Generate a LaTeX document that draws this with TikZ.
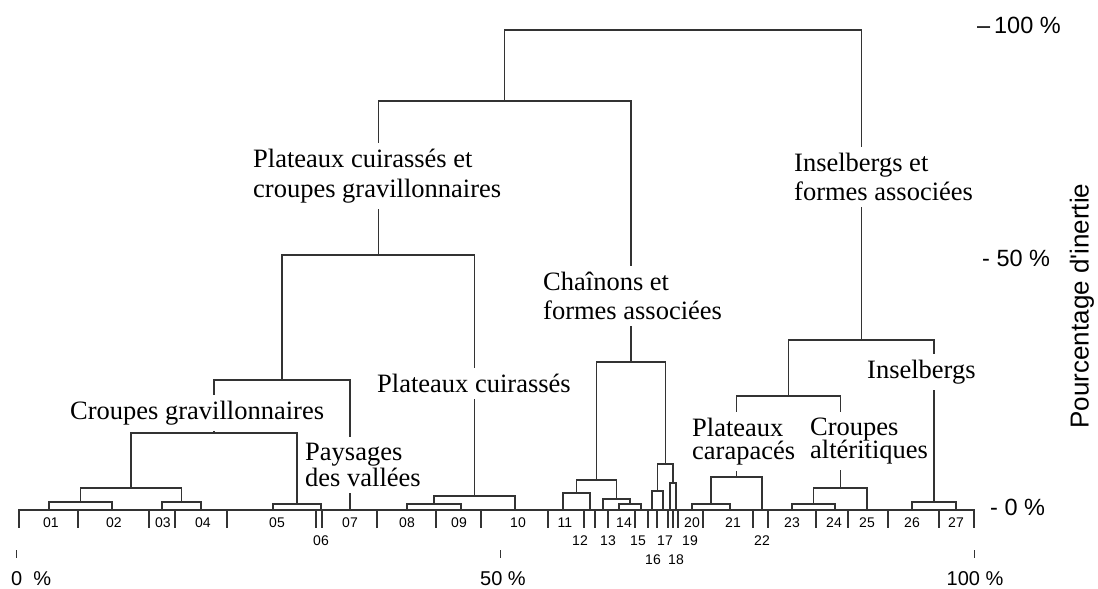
\documentclass[tikz,border=0pt]{standalone}
\usepackage{fontspec}
\setmainfont{Liberation Serif}
\setsansfont{Liberation Sans}
\usetikzlibrary{calc}

\tikzset{
  tree/.style={draw=black!80, line width=1.3pt, line cap=rect},
  grouplabel/.style={font=\fontsize{26.5}{#1}\selectfont,
    align=left, anchor=north west, fill=white, inner xsep=2pt, inner ysep=6pt},
  grouplabel/.default=30,
  leafnum/.style={font=\sffamily\fontsize{14}{15}\selectfont, anchor=base, inner sep=0pt},
  axislabel/.style={font=\sffamily\fontsize{20}{22}\selectfont, inner sep=0pt},
  scalelabel/.style={font=\sffamily\fontsize{23.5}{25}\selectfont, anchor=base west, inner sep=0pt}
}

% one merge: left child, right child, level, name of the merged branch
\newcommand{\fuse}[4]{%
  \draw[tree] (#1) -- (#1 |- 0,#3) -- (#2 |- 0,#3) -- (#2);
  \coordinate (#4) at ($(#1 |- 0,#3)!0.5!(#2 |- 0,#3)$);
}

\begin{document}
\lineskiplimit=-100pt
\begin{tikzpicture}[x=1pt, y=-1pt]

\useasboundingbox (0,0) rectangle (1098,589);

%-----------------------
% 1) BASE LINE AND LEAVES
%-----------------------
\draw[tree] (19,510) -- (974,510);
\foreach \x in {19,78,149,175,227,316,322,377,436,481,548,584,595,608,635,
                648,657,668,673,678,703,753,768,816,848,888,939,974}
  \draw[tree] (\x,510) -- (\x,527);

\foreach \n/\x in {01/49,02/112,03/162,04/201,05/273,06/321,07/350,08/407,
                   09/461,10/515,11/563,12/590,13/603,14/619,15/641,16/652,
                   17/663,18/670,19/676,20/692,21/730,22/762,23/792,24/835,
                   25/867,26/912,27/956}
  \coordinate (l\n) at (\x,510);

% leaf numbers, on three rows where they crowd
\foreach \n/\x/\y in {01/51/527,02/114/527,03/163/527,04/203/527,05/277/527,
                      06/321/545.5,07/350/527,08/407/527,09/459/527,10/518/527,
                      11/565/527,12/580/545.5,13/608/545.5,14/624/527,
                      15/638/545.5,16/653/564,17/665/545.5,18/676/564,
                      19/690/545.5,20/692/527,21/733/527,22/762/545.5,
                      23/792/527,24/834/527,25/867/527,26/912/527,27/956/527}
  \node[leafnum] (n\n) at (\x,\y) {\n};

%-----------------------
% 2) DENDROGRAM
%-----------------------
% plateaux cuirasses et croupes gravillonnaires
\fuse{l01}{l02}{502}{m0102}
\fuse{l03}{l04}{502}{m0304}
\fuse{m0102}{m0304}{488}{m0104}
\fuse{l05}{l06}{504}{m0506}
\fuse{m0104}{m0506}{433}{m0106}
\fuse{m0106}{l07}{380}{m0107}
\fuse{l08}{l09}{504}{m0809}
\fuse{m0809}{l10}{496}{m0810}
\fuse{m0107}{m0810}{255}{m0110}

% chainons
\fuse{l11}{l12}{493}{m1112}
\fuse{l14}{l15}{504}{m1415}
\fuse{l13}{m1415}{499}{m1315}
\fuse{m1112}{m1315}{480}{m1115}
\fuse{l16}{l17}{491}{m1617}
\fuse{l18}{l19}{483}{m1819}
\fuse{m1617}{m1819}{464}{m1619}
\fuse{m1115}{m1619}{362}{m1119}
\fuse{m0110}{m1119}{101}{m0119}

% inselbergs
\fuse{l20}{l21}{504}{m2021}
\fuse{m2021}{l22}{477}{m2022}
\fuse{l23}{l24}{504}{m2324}
\fuse{m2324}{l25}{488}{m2325}
\fuse{m2022}{m2325}{396}{m2025}
\fuse{l26}{l27}{502}{m2627}
\fuse{m2025}{m2627}{340}{m2027}

\fuse{m0119}{m2027}{30}{mroot}

%-----------------------
% 3) GROUP LABELS (over the stems)
%-----------------------
\node[grouplabel=30] (pcg) at (251,143) {Plateaux cuirassés et\\croupes gravillonnaires};
\node[grouplabel=29] (isf) at (792,147) {Inselbergs et\\formes associées};
\node[grouplabel=29] (chf) at (541,266) {Chaînons et\\formes associées};
\node[grouplabel] (pcu) at (375,368) {Plateaux cuirassés};
\node[grouplabel] (cgr) at (68,395) {Croupes gravillonnaires};
\node[grouplabel] (ins) at (865,354) {Inselbergs};
\node[grouplabel=23] (pca) at (690,412) {Plateaux\\carapacés};
\node[grouplabel=23] (cal) at (808,412) {Croupes\\altéritiques};
\node[grouplabel=26] (pva) at (303,437) {Paysages\\des vallées};

%-----------------------
% 4) SCALES
%-----------------------
\node[scalelabel] (s100) at (977,33) {\textendash\,100 \%};
\node[scalelabel] (s50) at (982,266) {- 50 \%};
\node[scalelabel] (s0) at (990,515) {- 0 \%};
\node[font=\sffamily\fontsize{26}{28}\selectfont, rotate=90, inner sep=0pt]
  (inertie) at (1082,306) {Pourcentage d\textquotesingle inertie};

\foreach \x in {16,500,974}
  \draw[draw=black!80, line width=1pt] (\x,550) -- (\x,558);
\node[axislabel, anchor=base west] (p0) at (11,585) {0\ \ \%};
\node[axislabel, anchor=base] (p50) at (503,585) {50 \%};
\node[axislabel, anchor=base] (p100) at (975,585) {100 \%};

\end{tikzpicture}
\end{document}
